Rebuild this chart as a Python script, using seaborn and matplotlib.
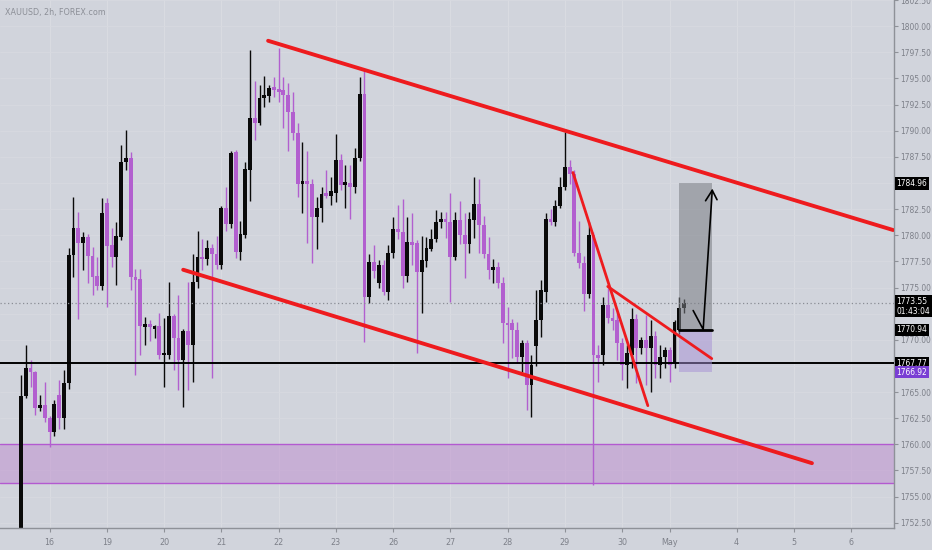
import numpy as np
import pandas as pd
import seaborn as sns
import matplotlib.pyplot as plt
from matplotlib import font_manager
from matplotlib.transforms import blended_transform_factory

# --- candles (2h bars, index = bar number) ---
opens = [1752.0, 1764.6, 1767.3, 1766.9, 1763.5, 1763.8, 1762.5, 1761.2, 1764.7, 1762.5,
         1765.9, 1778.1, 1780.7, 1779.3, 1779.8, 1778.0, 1776.1, 1775.1, 1783.1, 1779.1,
         1777.9, 1779.8, 1787.0, 1787.4, 1776.0, 1775.8, 1771.2, 1771.5, 1771.0, 1771.3,
         1768.5, 1768.5, 1772.3, 1770.2, 1768.1, 1770.8, 1769.5, 1775.5, 1777.9, 1777.7,
         1778.8, 1778.2, 1777.2, 1782.6, 1781.1, 1788.0, 1778.4, 1780.0, 1786.2, 1791.2,
         1790.7, 1793.1, 1793.3, 1794.1, 1793.9, 1793.9, 1793.4, 1791.8, 1789.8, 1784.9,
         1785.1, 1784.9, 1781.7, 1782.6, 1784.0, 1783.8, 1784.0, 1787.2, 1784.8, 1785.0,
         1784.6, 1787.4, 1793.5, 1774.1, 1777.4, 1775.4, 1777.2, 1774.6, 1778.3, 1780.6,
         1780.3, 1776.1, 1779.4, 1779.3, 1776.5, 1777.5, 1778.7, 1779.6, 1781.3, 1781.5,
         1781.3, 1777.9, 1781.5, 1780.0, 1779.2, 1781.5, 1783.0, 1781.0, 1778.2, 1776.7,
         1777.0, 1775.4, 1771.6, 1771.6, 1770.9, 1768.4, 1769.7, 1765.7, 1769.4, 1771.9,
         1774.6, 1781.6, 1781.3, 1782.8, 1784.6, 1786.5, 1785.9, 1778.3, 1777.3, 1774.4,
         1780.0, 1768.5, 1768.5, 1773.3, 1772.1, 1771.9, 1769.7, 1767.6, 1768.5, 1772.0,
         1769.2, 1770.0, 1769.2, 1770.4, 1767.6, 1768.4, 1769.0, 1767.8, 1770.9, 1773.0]
highs = [1766.6, 1769.5, 1768.1, 1767.0, 1764.7, 1766.0, 1762.7, 1764.2, 1766.2, 1767.1,
         1778.8, 1783.7, 1782.2, 1780.3, 1780.1, 1778.9, 1777.9, 1783.6, 1783.6, 1780.7,
         1781.3, 1788.6, 1790.1, 1788.0, 1776.8, 1776.8, 1772.2, 1771.9, 1771.4, 1772.6,
         1772.1, 1775.5, 1772.5, 1774.3, 1771.0, 1775.5, 1778.2, 1780.4, 1779.6, 1779.5,
         1779.2, 1779.9, 1782.8, 1784.6, 1788.1, 1788.2, 1781.4, 1787.0, 1797.7, 1794.8,
         1794.4, 1795.2, 1794.4, 1795.1, 1797.9, 1795.1, 1794.6, 1793.7, 1790.7, 1788.9,
         1788.1, 1785.4, 1783.7, 1784.6, 1786.2, 1785.6, 1789.7, 1787.8, 1786.7, 1786.7,
         1788.3, 1795.1, 1795.8, 1778.2, 1779.1, 1777.6, 1777.6, 1779.1, 1781.7, 1782.9,
         1783.5, 1781.7, 1782.1, 1779.5, 1779.9, 1779.8, 1780.6, 1782.4, 1782.2, 1782.2,
         1784.0, 1782.2, 1783.3, 1782.1, 1782.2, 1785.6, 1785.4, 1781.8, 1779.8, 1777.7,
         1777.4, 1776.0, 1773.1, 1772.0, 1771.7, 1770.0, 1770.0, 1768.5, 1774.8, 1775.7,
         1782.1, 1782.5, 1783.4, 1785.6, 1789.9, 1787.2, 1786.2, 1781.4, 1778.0, 1781.3,
         1780.3, 1769.5, 1774.1, 1775.0, 1773.0, 1772.7, 1770.2, 1769.5, 1773.0, 1772.5,
         1770.3, 1772.4, 1771.9, 1770.8, 1769.5, 1769.3, 1769.3, 1771.9, 1774.1, 1773.9]
lows = [1751.0, 1764.4, 1765.5, 1762.8, 1763.2, 1762.1, 1759.7, 1760.8, 1761.5, 1761.5,
        1765.3, 1776.0, 1772.0, 1776.7, 1775.4, 1774.3, 1774.8, 1774.8, 1773.1, 1777.0,
        1775.2, 1779.5, 1786.2, 1774.8, 1766.6, 1768.5, 1769.5, 1769.9, 1770.2, 1768.2,
        1765.5, 1768.2, 1767.1, 1765.2, 1763.6, 1765.2, 1766.0, 1775.0, 1776.7, 1777.2,
        1766.3, 1776.8, 1776.8, 1780.4, 1780.7, 1777.8, 1777.6, 1779.7, 1783.3, 1789.1,
        1790.5, 1792.3, 1792.7, 1793.2, 1792.7, 1790.3, 1788.1, 1789.1, 1783.7, 1782.1,
        1779.3, 1777.3, 1778.7, 1781.3, 1783.6, 1782.9, 1783.2, 1784.3, 1782.6, 1781.6,
        1784.0, 1787.1, 1769.8, 1773.5, 1775.9, 1775.0, 1774.3, 1773.8, 1777.8, 1779.6,
        1775.0, 1775.5, 1777.2, 1768.7, 1772.6, 1777.0, 1778.5, 1779.4, 1780.7, 1779.7,
        1773.6, 1777.6, 1779.2, 1775.9, 1778.3, 1779.7, 1778.3, 1777.8, 1775.8, 1775.4,
        1775.0, 1769.7, 1766.3, 1768.3, 1767.8, 1766.9, 1763.3, 1762.6, 1767.5, 1770.3,
        1773.6, 1781.0, 1780.9, 1782.6, 1784.3, 1784.9, 1778.0, 1776.9, 1772.8, 1774.0,
        1756.1, 1766.0, 1767.6, 1771.6, 1770.9, 1768.1, 1766.2, 1765.4, 1767.3, 1765.9,
        1768.6, 1765.7, 1765.0, 1766.3, 1766.3, 1767.3, 1766.0, 1767.3, 1770.6, 1772.6]
closes = [1764.6, 1767.3, 1766.9, 1763.5, 1763.8, 1762.5, 1761.2, 1763.9, 1762.5, 1765.9,
          1778.1, 1780.7, 1779.3, 1779.8, 1778.0, 1776.0, 1775.1, 1782.1, 1779.0, 1777.9,
          1779.9, 1787.0, 1787.4, 1776.0, 1775.7, 1771.3, 1771.5, 1771.2, 1771.3, 1768.5,
          1768.7, 1772.3, 1770.2, 1768.1, 1770.8, 1769.5, 1775.5, 1777.9, 1777.7, 1778.8,
          1778.2, 1777.2, 1782.6, 1781.1, 1787.9, 1778.4, 1780.1, 1786.3, 1791.2, 1790.7,
          1793.1, 1793.4, 1794.1, 1793.9, 1793.7, 1793.4, 1791.8, 1789.8, 1784.9, 1785.1,
          1784.9, 1781.7, 1782.6, 1783.9, 1783.8, 1784.2, 1787.2, 1784.8, 1785.0, 1784.6,
          1787.4, 1793.5, 1774.1, 1777.4, 1776.6, 1777.2, 1774.6, 1778.3, 1780.6, 1780.3,
          1776.1, 1779.4, 1779.1, 1776.5, 1777.6, 1778.8, 1779.6, 1781.3, 1781.5, 1781.3,
          1777.9, 1781.5, 1780.0, 1779.2, 1781.6, 1783.0, 1781.0, 1778.2, 1776.7, 1777.0,
          1775.4, 1771.6, 1771.4, 1770.9, 1768.4, 1769.7, 1765.7, 1767.6, 1771.9, 1774.8,
          1781.6, 1781.3, 1782.8, 1784.6, 1786.5, 1785.9, 1778.3, 1777.3, 1774.4, 1780.0,
          1768.5, 1768.3, 1773.3, 1772.1, 1771.8, 1769.7, 1767.6, 1768.7, 1772.0, 1769.2,
          1770.0, 1769.2, 1770.4, 1767.6, 1768.4, 1769.0, 1767.6, 1771.7, 1773.0, 1773.55]

# x axis day labels (bar index where each day starts)
day_ticks = [6, 18, 30, 42, 54, 66, 78, 90, 102, 114, 126, 136, 150, 162, 174]
day_labels = ['16', '19', '20', '21', '22', '23', '26', '27', '28', '29', '30', 'May', '4', '5', '6']

# price scale
price_ticks = list(np.arange(1752.5, 1803, 2.5))
hidden_ticks = [1785.0, 1772.5, 1767.5]  # sit under the price tags

# price levels
support_level = 1767.77
last_price = 1773.55
zone_top, zone_bottom = 1760.0, 1756.3
entry_price, target_price, stop_price = 1770.94, 1784.96, 1766.92
position_bars = [138.0, 144.9]

# hand-drawn trend lines: (bar, price) end points
trend_lines = {
    'channel_top': [(51.8, 1798.6), (182.8, 1780.5)],
    'channel_bottom': [(34.0, 1776.7), (165.8, 1758.2)],
    'wedge_steep': [(115.7, 1786.0), (131.4, 1763.7)],
    'wedge_flat': [(123.0, 1775.1), (144.8, 1768.2)],
}
path_bars = [140.9, 143.0, 144.9]
path_prices = [1772.8, 1771.0, 1784.3]

BG = '#d1d4dc'
UP = '#0a0a0a'
DOWN = '#b25fcf'
TXT = '#7d8089'
RED = '#ee1b1e'

sns.set_theme(style='white', rc={'axes.facecolor': BG, 'figure.facecolor': BG})

# narrow font for the price scale, if a condensed face is installed
cond = font_manager.findfont(font_manager.FontProperties(family='DejaVu Sans', stretch='condensed'))
if 'Condensed' in cond:
    plt.rcParams['font.family'] = ['DejaVu Sans', 'DejaVu Sans']
    plt.rcParams['font.stretch'] = 'condensed'
    fs = 6.0
else:
    plt.rcParams['font.family'] = ['Liberation Sans', 'DejaVu Sans']
    fs = 5.8

fig = plt.figure(figsize=(9.32, 5.5), dpi=100)
ax = fig.add_axes([0, 22 / 550, 894 / 932, 528 / 550])

df = pd.DataFrame({'open': opens, 'high': highs, 'low': lows, 'close': closes})
df['bar'] = np.arange(len(df))
up = df['close'] >= df['open']
colors = np.where(up, UP, DOWN)

# faint grid
for t in day_ticks:
    ax.axvline(t, color='#d9dbe1', lw=0.8, zorder=0)
for p in price_ticks:
    ax.axhline(p, color='#d7d9e0', lw=0.6, zorder=0)

# demand zone
ax.axhspan(zone_bottom, zone_top, facecolor='#bb82cd', alpha=0.45, lw=0, zorder=1)
ax.axhline(zone_top, color='#b35ad0', lw=1, zorder=1.1)
ax.axhline(zone_bottom, color='#b35ad0', lw=1, zorder=1.1)

# candles
ax.vlines(df['bar'], df['low'], df['high'], colors=colors, lw=1, zorder=2)
body_low = df[['open', 'close']].min(axis=1)
body_h = (df['close'] - df['open']).abs().clip(lower=0.25)
ax.bar(df['bar'], body_h, bottom=body_low, width=0.8, color=colors, lw=0, zorder=2.1)

# levels
ax.axhline(support_level, color='black', lw=1.4, zorder=3)
ax.axhline(last_price, color='#8a8d95', lw=0.9, ls=(0, (1, 2)), zorder=3)

# long position tool
x0, x1 = position_bars
ax.fill_between([x0, x1], entry_price, target_price, color='#7a7d84', alpha=0.55, lw=0, zorder=3.2)
ax.fill_between([x0, x1], stop_price, entry_price, color='#a690d6', alpha=0.5, lw=0, zorder=3.2)
ax.plot([x0, x1], [entry_price, entry_price], color='black', lw=2, zorder=3.3)

# trend lines
seg = pd.DataFrame([(k, b, p) for k, pts in trend_lines.items() for b, p in pts],
                   columns=['line', 'bar', 'price'])
wide = seg['line'].str.startswith('channel')
sns.lineplot(data=seg[wide], x='bar', y='price', units='line', estimator=None,
             color=RED, lw=2.8, ax=ax, zorder=4)
sns.lineplot(data=seg[~wide], x='bar', y='price', units='line', estimator=None,
             color=RED, lw=2.0, ax=ax, zorder=4)

# projected path + arrow head
ax.plot(path_bars, path_prices, color='black', lw=1.2, zorder=5)
ax.plot([path_bars[-1] - 1.4, path_bars[-1], path_bars[-1] + 1.0],
        [path_prices[-1] - 1.0, path_prices[-1], path_prices[-1] - 0.9],
        color='black', lw=1.2, zorder=5)

ax.set_xlim(-4.4, 183.0)
ax.set_ylim(1752.0, 1802.5)
ax.set_xlabel('')
ax.set_ylabel('')

# axes styling
for s in ['left', 'top']:
    ax.spines[s].set_visible(False)
for s in ['right', 'bottom']:
    ax.spines[s].set_color('#8e9198')
    ax.spines[s].set_linewidth(1)
ax.yaxis.tick_right()
ax.set_yticks(price_ticks)
ax.set_yticklabels(['' if any(abs(v - h) < 1e-6 for h in hidden_ticks) else f'{v:.2f}'
                    for v in price_ticks])
ax.set_xticks(day_ticks)
ax.set_xticklabels(day_labels)
ax.tick_params(axis='y', right=True, length=3, width=0.8, color='#8e9198',
               labelsize=fs, labelcolor=TXT, pad=1.5)
ax.tick_params(axis='x', bottom=True, length=3, width=0.8, color='#8e9198',
               labelsize=fs + 0.4, labelcolor=TXT, pad=4)

# price tags on the scale
tr = blended_transform_factory(ax.transAxes, ax.transData)
tags = [(1784.96, '1784.96', 'black'), (1773.55, '1773.55\n01:43:04', 'black'),
        (1770.94, '1770.94', 'black'), (1767.77, '1767.77', 'black'),
        (1766.92, '1766.92', '#7a3fd4')]
for y, s, c in tags:
    va = 'top' if '\n' in s else 'center'
    yy = y + 0.55 if '\n' in s else y
    ax.text(1.003, yy, s, transform=tr, ha='left', va=va, fontsize=fs, color='white',
            linespacing=1.1, clip_on=False, zorder=10,
            bbox=dict(boxstyle='square,pad=0.2', fc=c, ec='none'))

fig.text(5 / 932, 1 - 13 / 550, 'XAUUSD, 2h, FOREX.com', fontsize=fs + 0.4, color='#8c8f97',
         ha='left', va='center')

fig.savefig('out.png', dpi=100, facecolor=BG)
